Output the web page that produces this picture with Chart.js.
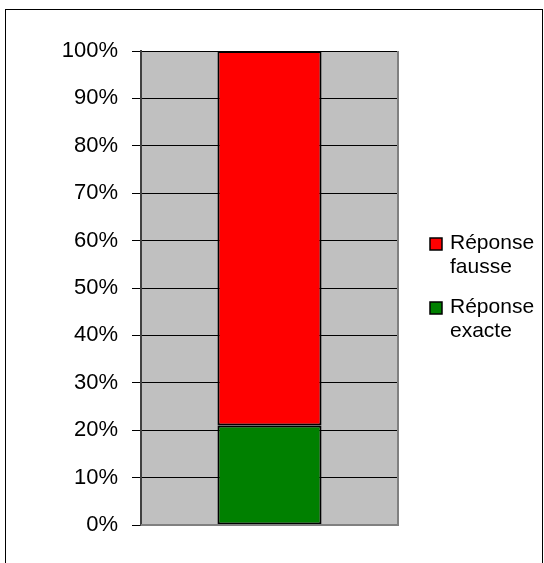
<!DOCTYPE html>
<html>
<head>
<meta charset="utf-8">
<script src="https://cdn.jsdelivr.net/npm/chart.js@4"></script>
<style>
  html, body { margin: 0; padding: 0; background: #fff; }
  #wrap { width: 544px; height: 563px; }
</style>
</head>
<body>
<div id="wrap"><canvas id="reponsesChart" width="544" height="563"></canvas></div>
<script>
const categories = [''];
const exacte = [21];
const fausse = [79];
const seriesNames = [['Réponse', 'exacte'], ['Réponse', 'fausse']];
const yTicks = [0, 10, 20, 30, 40, 50, 60, 70, 80, 90, 100];

// grey plot area + frame around the whole chart
const backdrop = {
    id: 'backdrop',
    beforeDraw(chart) {
        const { ctx, chartArea: a } = chart;
        ctx.save();
        ctx.fillStyle = '#c0c0c0';
        ctx.fillRect(a.left, a.top, a.right - a.left, a.bottom - a.top);
        ctx.restore();
    },
    afterDraw(chart) {
        const { ctx, chartArea: a } = chart;
        ctx.save();
        ctx.strokeStyle = '#808080';
        ctx.lineWidth = 2;
        ctx.beginPath();
        ctx.moveTo(a.right, a.top);
        ctx.lineTo(a.right, a.bottom);
        ctx.lineTo(a.left, a.bottom);
        ctx.stroke();
        ctx.strokeStyle = '#000';
        ctx.lineWidth = 1;
        ctx.strokeRect(5.5, 9.5, 537, 600);
        ctx.restore();
    }
};

// legend on the right, labels wrapped on two lines, top entry = top of stack
const sideLegend = {
    id: 'sideLegend',
    afterDraw(chart) {
        const { ctx } = chart;
        const ds = chart.data.datasets.slice().reverse();
        ctx.save();
        ctx.font = '21px "Liberation Sans", Arial, sans-serif';
        ctx.textBaseline = 'alphabetic';
        ctx.textAlign = 'left';
        let y = 238;
        ds.forEach(d => {
            ctx.fillStyle = d.backgroundColor;
            ctx.fillRect(430, y, 12, 12);
            ctx.strokeStyle = '#000';
            ctx.lineWidth = 1.5;
            ctx.strokeRect(430, y, 12, 12);
            ctx.fillStyle = '#000';
            d.legendLines.forEach((line, i) => {
                ctx.fillText(line, 450, y + 11 + i * 24);
            });
            y += 64;
        });
        ctx.restore();
    }
};

const ctx = document.getElementById('reponsesChart').getContext('2d');
const chart = new Chart(ctx, {
    type: 'bar',
    data: {
        labels: categories,
        datasets: [
            {
                label: seriesNames[0].join(' '),
                legendLines: seriesNames[0],
                data: exacte,
                backgroundColor: '#008000',
                borderColor: '#000',
                borderWidth: 2,
                borderSkipped: false
            },
            {
                label: seriesNames[1].join(' '),
                legendLines: seriesNames[1],
                data: fausse,
                backgroundColor: '#ff0000',
                borderColor: '#000',
                borderWidth: 2,
                borderSkipped: false
            }
        ]
    },
    options: {
        responsive: false,
        animation: false,
        layout: { padding: { left: 0, top: 51, right: 146, bottom: 38 } },
        plugins: {
            legend: { display: false },
            tooltip: { enabled: false }
        },
        datasets: {
            bar: { barPercentage: 0.405, categoryPercentage: 1 }
        },
        scales: {
            x: {
                stacked: true,
                display: false
            },
            y: {
                stacked: true,
                min: 0,
                max: 100,
                afterFit(scale) { scale.width = 141; },
                afterBuildTicks(scale) { scale.ticks = yTicks.map(v => ({ value: v })); },
                ticks: {
                    padding: 14,
                    color: '#000',
                    font: { family: '"Liberation Sans", Arial, sans-serif', size: 22 },
                    callback: v => v + '%'
                },
                grid: {
                    color: '#000',
                    lineWidth: 1,
                    tickLength: 9,
                    tickColor: '#000'
                },
                border: { display: true, color: '#404040', width: 2 }
            }
        }
    },
    plugins: [backdrop, sideLegend]
});
</script>
</body>
</html>
